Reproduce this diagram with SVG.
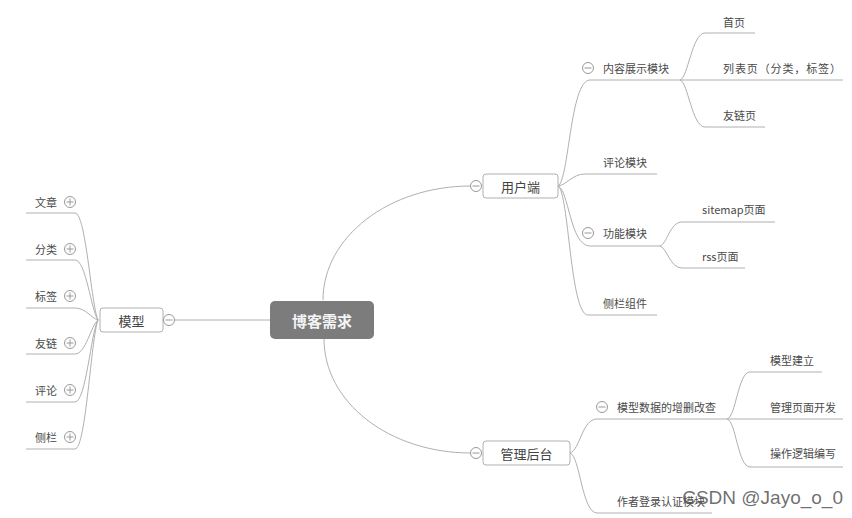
<svg xmlns="http://www.w3.org/2000/svg" width="852" height="518" viewBox="0 0 852 518">
<defs>
<style>
.ln{fill:none;stroke:#b0b0b0;stroke-width:1}
.t{font-family:"Noto Sans CJK SC","Liberation Sans",sans-serif;font-size:11px;fill:#4a4a4a;dominant-baseline:central}
.t2{font-family:"Noto Sans CJK SC","Liberation Sans",sans-serif;font-size:13px;fill:#444;dominant-baseline:central;text-anchor:middle}
.box{fill:#fff;stroke:#b0b0b0;stroke-width:1}
.tg{fill:#fff;stroke:#999;stroke-width:1}
.tgl{stroke:#999;stroke-width:1}
</style>
<g id="plus"><circle class="tg" cx="0" cy="0" r="5.5"/><line class="tgl" x1="-3.5" y1="0" x2="3.5" y2="0"/><line class="tgl" x1="0" y1="-3.5" x2="0" y2="3.5"/></g>
<g id="minus"><circle class="tg" cx="0" cy="0" r="5.5"/><line class="tgl" x1="-3.5" y1="0" x2="3.5" y2="0"/></g>
</defs>
<rect width="852" height="518" fill="#fff"/>
<g id="connectors">
<path class="ln" d="M174,320 L270,320"/>
<path class="ln" d="M323,300 C323,237 389,186 471,186"/>
<path class="ln" d="M324,339 C324,402 389,453 471,453"/>
<path class="ln" d="M26,213 L75,213 C86,213 91,304 98,320"/>
<path class="ln" d="M26,260 L75,260 C86,260 91,310 98,320"/>
<path class="ln" d="M26,308 L75,308 C86,308 91,318 98,320"/>
<path class="ln" d="M26,354 L75,354 C86,354 91,325 98,320"/>
<path class="ln" d="M26,402 L75,402 C86,402 91,332 98,320"/>
<path class="ln" d="M26,449 L75,449 C86,449 91,338 98,320"/>
<path class="ln" d="M558,186 C569,181 570,80 590,80 L680,80"/>
<path class="ln" d="M558,186 C567,185 572,174 585,174 L657,174"/>
<path class="ln" d="M558,186 C569,190 570,246 590,246 L660,246"/>
<path class="ln" d="M558,186 C569,192 570,315 588,315 L657,315"/>
<path class="ln" d="M680,80 C688,78 692,33 705,33 L755,33"/>
<path class="ln" d="M680,80 L843,80"/>
<path class="ln" d="M680,80 C688,82 692,127 705,127 L765,127"/>
<path class="ln" d="M660,246 C667,244 670,222 682,222 L775,222"/>
<path class="ln" d="M660,246 C667,248 670,268 682,268 L745,268"/>
<path class="ln" d="M570,453 C580,450 582,419 597,419 L727,419"/>
<path class="ln" d="M570,453 C580,456 582,513 597,513 L712,513"/>
<path class="ln" d="M727,419 C736,417 738,372 750,372 L822,372"/>
<path class="ln" d="M727,419 L843,419"/>
<path class="ln" d="M727,419 C736,421 738,467 750,467 L843,467"/>
</g>
<g id="root">
<rect x="270" y="301" width="104" height="38" rx="5" fill="#7c7c7c"/>
<text x="322" y="320" text-anchor="middle" dominant-baseline="central" font-family="Noto Sans CJK SC,Liberation Sans,sans-serif" font-size="15" font-weight="bold" fill="#f4f4f4">博客需求</text>
</g>
<g id="model">
<rect class="box" x="100" y="308" width="63" height="24" rx="3"/>
<text class="t2" x="131.5" y="320">模型</text>
<use href="#minus" x="169" y="320"/>
</g>
<g id="m1"><text class="t" x="35" y="202">文章</text><use href="#plus" x="70" y="202"/></g>
<g id="m2"><text class="t" x="35" y="249">分类</text><use href="#plus" x="70" y="249"/></g>
<g id="m3"><text class="t" x="35" y="296">标签</text><use href="#plus" x="70" y="296"/></g>
<g id="m4"><text class="t" x="35" y="343">友链</text><use href="#plus" x="70" y="343"/></g>
<g id="m5"><text class="t" x="35" y="390">评论</text><use href="#plus" x="70" y="390"/></g>
<g id="m6"><text class="t" x="35" y="437">侧栏</text><use href="#plus" x="70" y="437"/></g>
<g id="user">
<rect class="box" x="483" y="174" width="75" height="24" rx="3"/>
<text class="t2" x="520.5" y="186">用户端</text>
<use href="#minus" x="476" y="186"/>
</g>
<g id="admin">
<rect class="box" x="483" y="441" width="87" height="24" rx="3"/>
<text class="t2" x="526.5" y="453">管理后台</text>
<use href="#minus" x="476" y="453"/>
</g>
<g id="u1"><use href="#minus" x="588" y="68"/><text class="t" x="603" y="68">内容展示模块</text></g>
<g id="u1a"><text class="t" x="723" y="22">首页</text></g>
<g id="u1b"><text class="t" x="723" y="68" textLength="118" lengthAdjust="spacing">列表页（分类，标签）</text></g>
<g id="u1c"><text class="t" x="723" y="115">友链页</text></g>
<g id="u2"><text class="t" x="603" y="162">评论模块</text></g>
<g id="u3"><use href="#minus" x="588" y="233"/><text class="t" x="603" y="233">功能模块</text></g>
<g id="u3a"><text class="t" x="702" y="209">sitemap页面</text></g>
<g id="u3b"><text class="t" x="702" y="256">rss页面</text></g>
<g id="u4"><text class="t" x="603" y="303">侧栏组件</text></g>
<g id="a1"><use href="#minus" x="602" y="407"/><text class="t" x="617" y="407">模型数据的增删改查</text></g>
<g id="a1a"><text class="t" x="770" y="360">模型建立</text></g>
<g id="a1b"><text class="t" x="770" y="407">管理页面开发</text></g>
<g id="a1c"><text class="t" x="770" y="453">操作逻辑编写</text></g>
<g id="a2"><text class="t" x="617" y="501">作者登录认证模块</text></g>
<text x="843" y="504" text-anchor="end" font-family="Liberation Sans,Arial,sans-serif" font-size="19" fill="#555" fill-opacity="0.85">CSDN @Jayo_o_0</text>
</svg>
